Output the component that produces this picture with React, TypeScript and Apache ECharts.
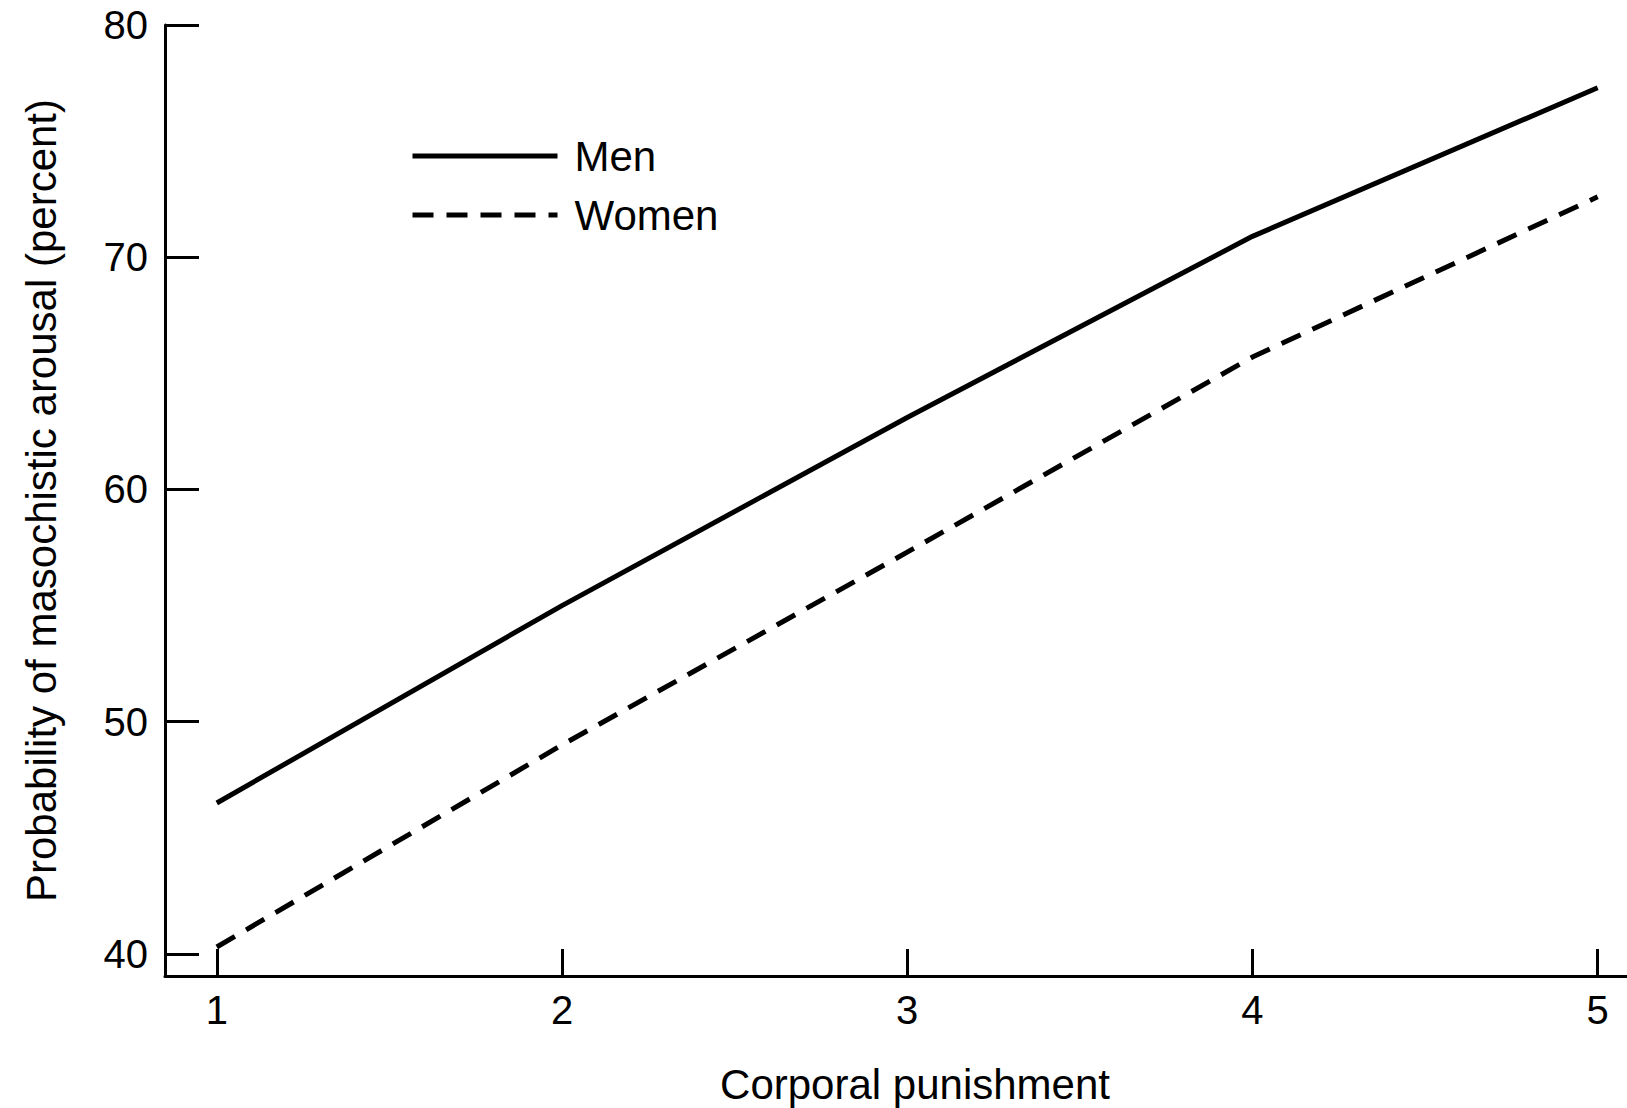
import React, { useEffect, useRef } from "react";
import * as echarts from "echarts";

const xTicks = [1, 2, 3, 4, 5];
const yTicks = [40, 50, 60, 70, 80];
const menValues: [number, number][] = [
  [1, 46.5],
  [2, 55.0],
  [3, 63.1],
  [4, 70.9],
  [5, 77.3],
];
const womenValues: [number, number][] = [
  [1, 40.3],
  [2, 49.0],
  [3, 57.3],
  [4, 65.7],
  [5, 72.6],
];
const seriesNames = ["Men", "Women"];
const xName = "Corporal punishment";
const yName = "Probability of masochistic arousal (percent)";

const FONT = "Liberation Sans, Arial, Helvetica, sans-serif";

export default function App() {
  const ref = useRef<HTMLDivElement>(null);
  useEffect(() => {
    if (!ref.current) return;
    const chart = echarts.init(ref.current, undefined, { renderer: "svg" });
    chart.setOption({
      animation: false,
      backgroundColor: "#ffffff",
      grid: { left: 165, top: 25, right: 0, bottom: 132, outerBoundsMode: "none", containLabel: false },
      legend: {
        left: 405,
        top: 130,
        orient: "vertical",
        itemWidth: 145,
        itemHeight: 14,
        itemGap: 17,
        data: seriesNames,
        itemStyle: { opacity: 0 },
        lineStyle: { width: 5 },
        textStyle: {
          fontFamily: FONT,
          fontSize: 42,
          color: "#000",
          lineHeight: 42,
          padding: [0, 0, 0, 12],
        },
      },
      xAxis: {
        type: "value",
        min: 0.85,
        max: 5.085,
        name: xName,
        nameLocation: "middle",
        nameGap: 87,
        nameTextStyle: { fontFamily: FONT, fontSize: 42, color: "#000", padding: [0, 0, 0, 38] },
        axisLine: { show: true, onZero: false, lineStyle: { color: "#000", width: 3 } },
        axisTick: {
          show: true,
          inside: true,
          length: 27,
          customValues: xTicks,
          lineStyle: { color: "#000", width: 3 },
        },
        axisLabel: {
          show: true,
          customValues: xTicks,
          margin: 14,
          fontFamily: FONT,
          fontSize: 40,
          color: "#000",
        },
        splitLine: { show: false },
      },
      yAxis: {
        type: "value",
        min: 39.05,
        max: 80,
        name: yName,
        nameLocation: "middle",
        nameGap: 103,
        nameTextStyle: { fontFamily: FONT, fontSize: 42, color: "#000" },
        axisLine: { show: true, onZero: false, lineStyle: { color: "#000", width: 3 } },
        axisTick: {
          show: true,
          inside: true,
          length: 34,
          customValues: yTicks,
          lineStyle: { color: "#000", width: 3 },
        },
        axisLabel: {
          show: true,
          customValues: yTicks,
          margin: 17,
          fontFamily: FONT,
          fontSize: 40,
          color: "#000",
        },
        splitLine: { show: false },
      },
      series: [
        {
          name: seriesNames[0],
          type: "line",
          data: menValues,
          symbol: "none",
          lineStyle: { color: "#000", width: 5, type: "solid" },
          itemStyle: { color: "#000" },
        },
        {
          name: seriesNames[1],
          type: "line",
          data: womenValues,
          symbol: "none",
          lineStyle: { color: "#000", width: 5, type: [21, 13] },
          itemStyle: { color: "#000" },
        },
      ],
    });
    return () => chart.dispose();
  }, []);
  return (
    <div
      ref={ref}
      style={{ position: "fixed", left: 0, top: 0, width: 1627, height: 1108, background: "#fff" }}
    />
  );
}
